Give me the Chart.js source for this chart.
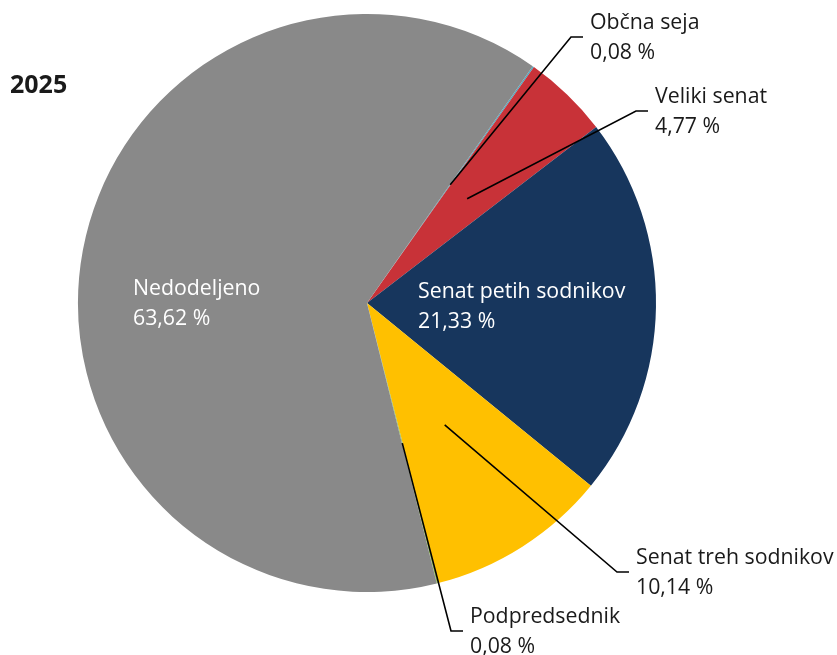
<!DOCTYPE html>
<html>
<head>
<meta charset="utf-8">
<script src="https://cdn.jsdelivr.net/npm/chart.js@4/dist/chart.umd.min.js"></script>
<style>
  html, body { margin: 0; padding: 0; background: #fff; }
  #wrap { width: 837px; height: 655px; position: relative; }
</style>
</head>
<body>
<div id="wrap"><canvas id="myChart"></canvas></div>
<script>
const categories = ['Občna seja', 'Veliki senat', 'Senat petih sodnikov', 'Senat treh sodnikov', 'Podpredsednik', 'Nedodeljeno'];
const shares = [0.08, 4.77, 21.33, 10.14, 0.08, 63.62];
const colors = ['#4bacc6', '#c83238', '#17365d', '#ffc000', '#92c050', '#898989'];
const year = '2025';

// where each label goes: inside the slice or outside with a leader line
const labelPlaces = [
  { outside: true, x: 590, y: 37 },
  { outside: true, x: 655, y: 111 },
  { outside: false, x: 418, y: 292 },
  { outside: true, x: 636, y: 572 },
  { outside: true, x: 470, y: 631 },
  { outside: false, x: 133, y: 289 },
];

const fmt = v => v.toFixed(2).replace('.', ',') + ' %';

const labelPlugin = {
  id: 'pieLabels',
  afterDraw(chart) {
    const ctx = chart.ctx;
    const arcs = chart.getDatasetMeta(0).data;
    ctx.save();
    ctx.font = '21.3px "Open Sans"';
    ctx.textBaseline = 'middle';
    ctx.textAlign = 'left';
    arcs.forEach((arc, i) => {
      const p = labelPlaces[i];
      const { x, y, startAngle, endAngle, outerRadius } = arc.getProps(['x', 'y', 'startAngle', 'endAngle', 'outerRadius']);
      if (p.outside) {
        const mid = (startAngle + endAngle) / 2;
        const ix = x + Math.cos(mid) * outerRadius * 0.5;
        const iy = y + Math.sin(mid) * outerRadius * 0.5;
        ctx.strokeStyle = '#000';
        ctx.lineWidth = 1.6;
        ctx.beginPath();
        ctx.moveTo(ix, iy);
        ctx.lineTo(p.x - 19, p.y);
        ctx.lineTo(p.x - 7, p.y);
        ctx.stroke();
        ctx.fillStyle = '#1a1a1a';
        ctx.fillText(categories[i], p.x, p.y - 14);
        ctx.fillText(fmt(shares[i]), p.x, p.y + 16);
      } else {
        ctx.fillStyle = '#ffffff';
        ctx.fillText(categories[i], p.x, p.y);
        ctx.fillText(fmt(shares[i]), p.x, p.y + 30);
      }
    });
    ctx.font = 'bold 25px "Open Sans"';
    ctx.fillStyle = '#1a1a1a';
    ctx.fillText(year, 10, 86);
    ctx.restore();
  }
};

new Chart(document.getElementById('myChart').getContext('2d'), {
  type: 'pie',
  data: {
    labels: categories,
    datasets: [{
      data: shares,
      backgroundColor: colors,
      borderWidth: 0,
    }],
  },
  options: {
    responsive: true,
    maintainAspectRatio: false,
    animation: false,
    rotation: 35,
    layout: { padding: { left: 78, right: 181, top: 14, bottom: 63 } },
    plugins: {
      legend: { display: false },
      tooltip: { enabled: false },
    },
  },
  plugins: [labelPlugin],
});
</script>
</body>
</html>
